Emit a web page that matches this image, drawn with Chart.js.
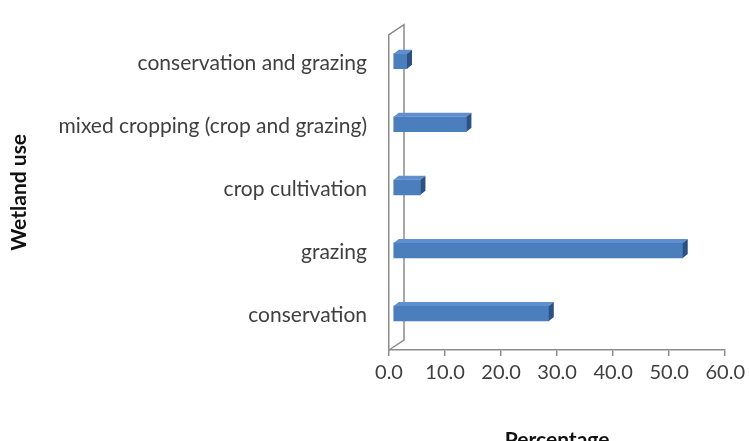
<!DOCTYPE html>
<html>
<head>
  <title>Wetland use</title>
  <script src="https://cdn.jsdelivr.net/npm/chart.js"></script>
  <style>
    html, body { margin: 0; padding: 0; background: #fff; }
    #wrap { width: 750px; height: 441px; }
  </style>
</head>
<body>
  <div id="wrap"><canvas id="chart" width="750" height="441"></canvas></div>

  <script>
    const categories = [
      "conservation and grazing",
      "mixed cropping (crop and grazing)",
      "crop cultivation",
      "grazing",
      "conservation"
    ];
    const percentages = [2.5, 13.1, 4.9, 51.7, 27.8];
    const xTicks = [0, 10, 20, 30, 40, 50, 60];

    // depth of the 3d look
    const wallDx = 15, wallDy = -10;
    const barDx = 5, barDy = -4;

    const look3d = {
      id: "look3d",
      beforeDatasetsDraw(chart) {
        const ctx = chart.ctx;
        const a = chart.chartArea;
        // back wall outline
        ctx.save();
        ctx.strokeStyle = "#8c8c8c";
        ctx.lineWidth = 1.5;
        ctx.beginPath();
        ctx.moveTo(a.left, a.top);
        ctx.lineTo(a.left + wallDx, a.top + wallDy);
        ctx.lineTo(a.left + wallDx, a.bottom + wallDy);
        ctx.lineTo(a.left, a.bottom);
        ctx.stroke();
        ctx.restore();
        ctx.save();
        ctx.translate(4, -5);
      },
      afterDatasetsDraw(chart) {
        const ctx = chart.ctx;
        chart.getDatasetMeta(0).data.forEach(bar => {
          const h = bar.height / 2;
          const top = bar.y - h, bot = bar.y + h;
          // top face
          ctx.fillStyle = "#5f8fd0";
          ctx.beginPath();
          ctx.moveTo(bar.base, top);
          ctx.lineTo(bar.base + barDx, top + barDy);
          ctx.lineTo(bar.x + barDx, top + barDy);
          ctx.lineTo(bar.x, top);
          ctx.closePath();
          ctx.fill();
          // right face
          ctx.fillStyle = "#2b5185";
          ctx.beginPath();
          ctx.moveTo(bar.x, top);
          ctx.lineTo(bar.x + barDx, top + barDy);
          ctx.lineTo(bar.x + barDx, bot + barDy);
          ctx.lineTo(bar.x, bot);
          ctx.closePath();
          ctx.fill();
        });
        ctx.restore();
      }
    };

    new Chart(document.getElementById("chart"), {
      type: "bar",
      data: {
        labels: categories,
        datasets: [{
          data: percentages,
          backgroundColor: "#4a7ebd",
          borderWidth: 0,
          barThickness: 15
        }]
      },
      plugins: [look3d],
      options: {
        indexAxis: "y",
        responsive: false,
        animation: false,
        layout: { padding: { top: 27, right: 21, left: 0, bottom: -12 } },
        plugins: {
          legend: { display: false },
          tooltip: { enabled: false }
        },
        scales: {
          x: {
            min: 0,
            max: 60,
            afterBuildTicks(scale) { scale.ticks = xTicks.map(v => ({ value: v })); },
            afterFit(scale) { scale.height = 103; },
            grid: {
              drawOnChartArea: false,
              drawTicks: true,
              tickLength: 6,
              color: "#8c8c8c",
              lineWidth: 1.5
            },
            border: { display: true, color: "#8c8c8c", width: 1.5 },
            ticks: {
              padding: 5,
              color: "#404040",
              font: { family: "Lato", size: 20 },
              callback: v => Number(v).toFixed(1),
              maxRotation: 0
            },
            title: {
              display: true,
              text: "Percentage",
              color: "#111",
              font: { family: "Lato", size: 21, weight: "bold" },
              padding: { top: 4, bottom: 0 }
            }
          },
          y: {
            afterFit(scale) { scale.width = 389; },
            grid: { display: false, drawTicks: false },
            border: { display: true, color: "#8c8c8c", width: 1.5 },
            ticks: {
              padding: 22,
              labelOffset: -3,
              color: "#404040",
              font: { family: "Lato", size: 21 }
            },
            title: {
              display: true,
              text: "Wetland use",
              color: "#111",
              font: { family: "Lato", size: 21, weight: "bold" },
              padding: { top: 7, bottom: 0 }
            }
          }
        }
      }
    });
  </script>
</body>
</html>
